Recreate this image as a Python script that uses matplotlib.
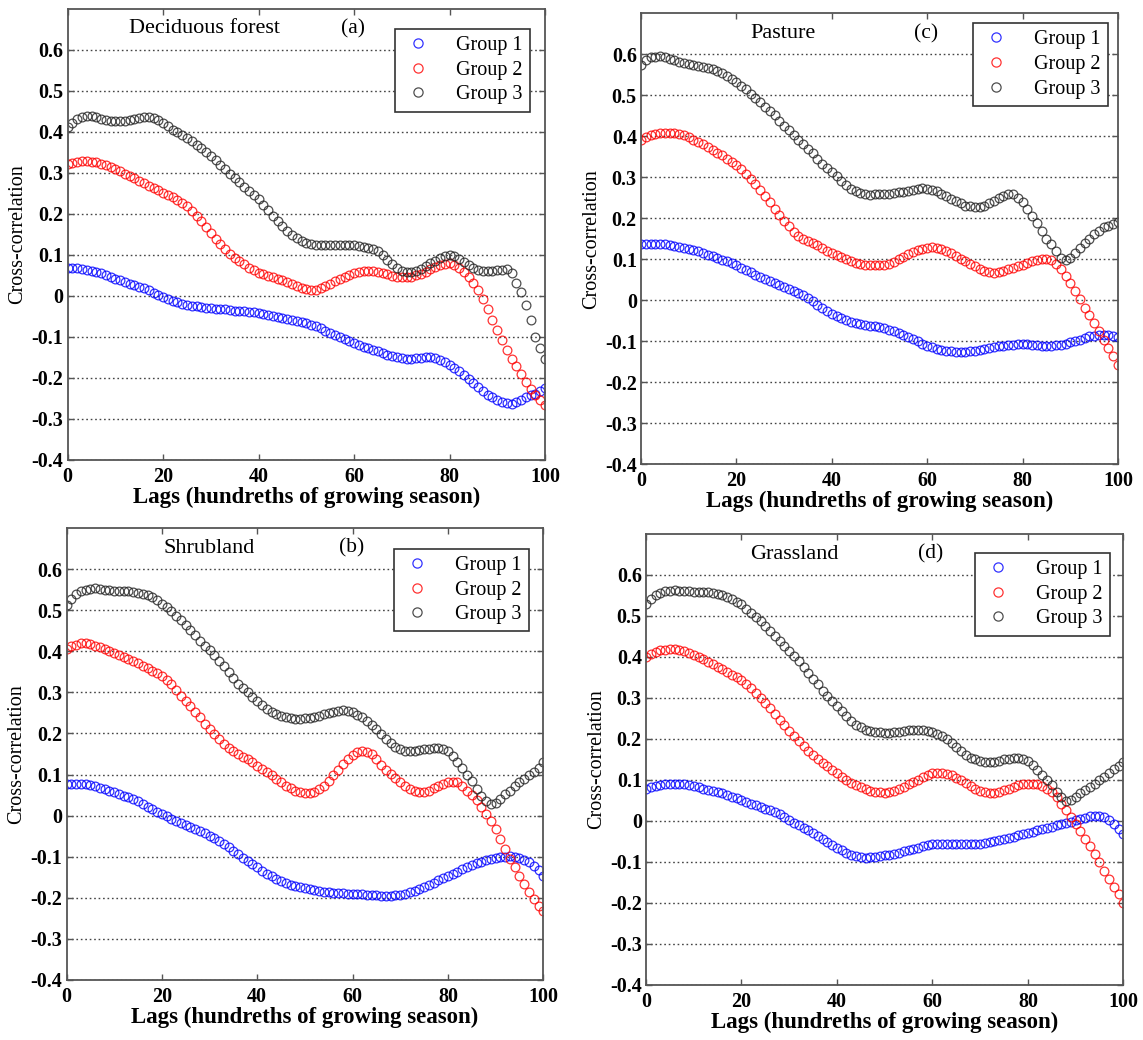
import matplotlib
matplotlib.use("Agg")
import matplotlib.pyplot as plt
import numpy as np

plt.rcParams['font.family'] = ['Liberation Serif', 'DejaVu Serif']

lags = list(range(0, 101))

# (a) Deciduous forest
a_g1 = [0.068,0.068,0.067,0.066,0.064,0.061,0.058,0.055,0.051,0.047,0.042,
        0.038,0.034,0.030,0.026,0.022,0.018,0.013,0.008,0.003,-0.002,
        -0.007,-0.012,-0.016,-0.019,-0.022,-0.024,-0.026,-0.027,-0.029,-0.030,
        -0.031,-0.032,-0.033,-0.034,-0.036,-0.037,-0.038,-0.039,-0.040,-0.042,
        -0.044,-0.046,-0.048,-0.051,-0.054,-0.056,-0.059,-0.061,-0.064,-0.067,
        -0.070,-0.074,-0.079,-0.085,-0.091,-0.096,-0.100,-0.104,-0.109,-0.115,
        -0.119,-0.124,-0.128,-0.132,-0.135,-0.139,-0.143,-0.147,-0.150,-0.152,
        -0.153,-0.153,-0.152,-0.151,-0.150,-0.150,-0.152,-0.156,-0.161,-0.168,
        -0.176,-0.184,-0.194,-0.203,-0.213,-0.223,-0.232,-0.241,-0.247,-0.253,
        -0.258,-0.262,-0.263,-0.259,-0.253,-0.247,-0.242,-0.238,-0.232,-0.225]
a_g2 = [0.320,0.324,0.327,0.328,0.328,0.327,0.325,0.322,0.318,0.313,0.308,
        0.303,0.297,0.292,0.286,0.280,0.274,0.268,0.263,0.257,0.251,
        0.246,0.240,0.234,0.227,0.218,0.207,0.195,0.182,0.168,0.153,
        0.139,0.126,0.114,0.103,0.093,0.085,0.077,0.069,0.062,0.056,
        0.052,0.048,0.045,0.042,0.039,0.034,0.029,0.023,0.019,0.016,
        0.015,0.015,0.018,0.023,0.030,0.036,0.041,0.046,0.051,0.055,
        0.058,0.060,0.060,0.060,0.059,0.056,0.052,0.048,0.046,0.045,
        0.045,0.047,0.050,0.054,0.059,0.065,0.070,0.075,0.078,0.079,
        0.075,0.068,0.059,0.047,0.032,0.015,-0.008,-0.033,-0.058,-0.083,
        -0.108,-0.132,-0.153,-0.172,-0.191,-0.209,-0.226,-0.242,-0.255,-0.266]
a_g3 = [0.412,0.422,0.430,0.435,0.437,0.437,0.435,0.432,0.429,0.427,0.425,
        0.425,0.426,0.428,0.431,0.433,0.435,0.435,0.433,0.428,0.421,
        0.413,0.405,0.399,0.392,0.385,0.377,0.368,0.359,0.350,0.340,
        0.330,0.319,0.309,0.298,0.287,0.277,0.266,0.256,0.245,0.235,
        0.222,0.209,0.195,0.182,0.170,0.159,0.149,0.140,0.133,0.128,
        0.126,0.125,0.125,0.125,0.125,0.125,0.125,0.125,0.125,0.124,
        0.122,0.120,0.117,0.114,0.110,0.100,0.088,0.077,0.067,0.060,
        0.057,0.057,0.061,0.066,0.072,0.079,0.086,0.093,0.098,0.099,
        0.096,0.090,0.082,0.074,0.068,0.064,0.061,0.060,0.060,0.062,
        0.064,0.066,0.056,0.032,0.010,-0.022,-0.058,-0.100,-0.127,-0.155]

# (c) Pasture
c_g1 = [0.136,0.137,0.138,0.138,0.137,0.136,0.134,0.132,0.130,0.128,0.125,
        0.123,0.120,0.116,0.111,0.107,0.103,0.099,0.095,0.090,0.085,
        0.079,0.073,0.068,0.062,0.057,0.052,0.047,0.042,0.037,0.033,
        0.028,0.023,0.018,0.012,0.006,-0.002,-0.011,-0.019,-0.027,-0.033,
        -0.039,-0.044,-0.049,-0.052,-0.055,-0.057,-0.060,-0.062,-0.063,-0.065,
        -0.068,-0.072,-0.076,-0.080,-0.085,-0.090,-0.095,-0.100,-0.106,-0.111,
        -0.115,-0.119,-0.121,-0.123,-0.125,-0.127,-0.127,-0.127,-0.125,-0.123,
        -0.121,-0.119,-0.116,-0.114,-0.112,-0.111,-0.109,-0.108,-0.107,-0.107,
        -0.107,-0.108,-0.110,-0.111,-0.111,-0.111,-0.110,-0.108,-0.106,-0.103,
        -0.100,-0.096,-0.092,-0.088,-0.086,-0.084,-0.084,-0.084,-0.086,-0.090]
c_g2 = [0.390,0.397,0.402,0.406,0.408,0.409,0.409,0.408,0.406,0.402,0.398,
        0.392,0.386,0.380,0.373,0.367,0.360,0.353,0.345,0.337,0.329,
        0.319,0.308,0.296,0.284,0.270,0.255,0.239,0.223,0.208,0.194,
        0.180,0.167,0.157,0.150,0.145,0.140,0.134,0.128,0.121,0.115,
        0.110,0.105,0.100,0.096,0.092,0.089,0.087,0.085,0.085,0.085,
        0.086,0.089,0.094,0.100,0.106,0.112,0.118,0.122,0.126,0.128,
        0.129,0.128,0.125,0.120,0.114,0.107,0.101,0.095,0.089,0.083,
        0.077,0.071,0.068,0.067,0.068,0.071,0.075,0.079,0.083,0.087,
        0.091,0.095,0.098,0.101,0.100,0.097,0.089,0.075,0.059,0.042,
        0.022,0.002,-0.019,-0.035,-0.055,-0.076,-0.096,-0.116,-0.137,-0.157]
c_g3 = [0.573,0.585,0.592,0.594,0.595,0.593,0.589,0.585,0.581,0.578,0.575,
        0.573,0.572,0.570,0.567,0.563,0.559,0.554,0.548,0.540,0.532,
        0.523,0.514,0.504,0.494,0.483,0.472,0.462,0.451,0.438,0.426,
        0.414,0.402,0.391,0.381,0.370,0.358,0.345,0.333,0.322,0.312,
        0.302,0.292,0.282,0.272,0.266,0.261,0.259,0.257,0.258,0.259,
        0.260,0.260,0.261,0.263,0.265,0.267,0.269,0.271,0.273,0.272,
        0.270,0.266,0.260,0.254,0.247,0.241,0.236,0.231,0.229,0.227,
        0.228,0.231,0.236,0.243,0.249,0.255,0.259,0.258,0.250,0.239,
        0.223,0.206,0.188,0.170,0.149,0.136,0.120,0.104,0.098,0.104,
        0.116,0.128,0.140,0.149,0.162,0.170,0.178,0.182,0.186,0.190]

# (b) Shrubland
b_g1 = [0.076,0.077,0.078,0.077,0.076,0.074,0.071,0.068,0.065,0.061,0.057,
        0.053,0.049,0.045,0.040,0.035,0.029,0.022,0.016,0.010,0.004,
        -0.002,-0.008,-0.014,-0.019,-0.024,-0.028,-0.033,-0.038,-0.043,-0.049,
        -0.055,-0.061,-0.069,-0.077,-0.085,-0.093,-0.102,-0.110,-0.118,-0.126,
        -0.134,-0.142,-0.148,-0.154,-0.159,-0.164,-0.168,-0.171,-0.174,-0.176,
        -0.178,-0.180,-0.183,-0.185,-0.187,-0.188,-0.189,-0.189,-0.190,-0.191,
        -0.191,-0.191,-0.192,-0.193,-0.194,-0.195,-0.195,-0.195,-0.194,-0.193,
        -0.190,-0.187,-0.183,-0.179,-0.174,-0.168,-0.163,-0.157,-0.152,-0.146,
        -0.141,-0.136,-0.131,-0.126,-0.121,-0.116,-0.112,-0.108,-0.105,-0.103,
        -0.101,-0.100,-0.099,-0.100,-0.103,-0.108,-0.114,-0.122,-0.133,-0.146]
b_g2 = [0.406,0.412,0.416,0.419,0.420,0.418,0.414,0.410,0.406,0.401,0.395,
        0.391,0.387,0.382,0.377,0.371,0.365,0.359,0.353,0.347,0.341,
        0.331,0.320,0.306,0.292,0.280,0.267,0.253,0.239,0.224,0.210,
        0.198,0.186,0.175,0.165,0.157,0.149,0.143,0.137,0.130,0.122,
        0.114,0.106,0.098,0.089,0.081,0.073,0.067,0.061,0.057,0.054,
        0.054,0.057,0.064,0.073,0.085,0.098,0.112,0.125,0.137,0.148,
        0.155,0.158,0.156,0.149,0.137,0.124,0.112,0.101,0.091,0.081,
        0.072,0.065,0.060,0.057,0.058,0.061,0.067,0.073,0.078,0.081,
        0.082,0.081,0.073,0.061,0.050,0.037,0.020,0.004,-0.012,-0.033,
        -0.057,-0.081,-0.106,-0.126,-0.146,-0.167,-0.187,-0.203,-0.220,-0.233]
b_g3 = [0.512,0.528,0.539,0.546,0.550,0.552,0.553,0.551,0.549,0.548,0.547,
        0.547,0.546,0.546,0.545,0.543,0.540,0.536,0.531,0.524,0.516,
        0.507,0.498,0.487,0.475,0.463,0.451,0.439,0.426,0.414,0.402,
        0.390,0.377,0.363,0.349,0.334,0.320,0.310,0.300,0.289,0.279,
        0.269,0.259,0.252,0.247,0.242,0.239,0.237,0.235,0.236,0.237,
        0.238,0.240,0.243,0.247,0.250,0.253,0.255,0.257,0.255,0.251,
        0.246,0.239,0.231,0.221,0.210,0.198,0.187,0.177,0.168,0.161,
        0.158,0.157,0.158,0.159,0.161,0.163,0.164,0.165,0.162,0.157,
        0.145,0.130,0.115,0.100,0.085,0.065,0.048,0.035,0.028,0.030,
        0.041,0.053,0.061,0.073,0.081,0.089,0.098,0.106,0.116,0.130]

# (d) Grassland
d_g1 = [0.079,0.082,0.085,0.087,0.089,0.090,0.090,0.090,0.090,0.088,0.085,
        0.082,0.079,0.076,0.073,0.070,0.067,0.063,0.059,0.055,0.050,
        0.046,0.042,0.038,0.034,0.030,0.026,0.021,0.016,0.010,0.003,
        -0.004,-0.011,-0.017,-0.023,-0.030,-0.037,-0.044,-0.051,-0.058,-0.065,
        -0.072,-0.078,-0.082,-0.086,-0.088,-0.090,-0.089,-0.088,-0.086,-0.084,
        -0.082,-0.080,-0.077,-0.073,-0.070,-0.068,-0.065,-0.062,-0.059,-0.057,
        -0.056,-0.055,-0.055,-0.055,-0.056,-0.057,-0.057,-0.057,-0.056,-0.055,
        -0.054,-0.052,-0.050,-0.047,-0.045,-0.042,-0.038,-0.035,-0.032,-0.029,
        -0.026,-0.023,-0.020,-0.017,-0.014,-0.011,-0.008,-0.005,-0.002,0.002,
        0.005,0.008,0.011,0.013,0.013,0.010,0.003,-0.007,-0.019,-0.033]
d_g2 = [0.400,0.408,0.413,0.416,0.418,0.419,0.419,0.417,0.414,0.410,0.405,
        0.400,0.394,0.388,0.382,0.376,0.370,0.364,0.357,0.350,0.343,
        0.334,0.325,0.313,0.300,0.288,0.276,0.262,0.247,0.233,0.219,
        0.206,0.194,0.182,0.170,0.160,0.150,0.141,0.133,0.125,0.117,
        0.108,0.099,0.093,0.087,0.082,0.077,0.074,0.071,0.070,0.069,
        0.070,0.073,0.078,0.083,0.089,0.095,0.101,0.107,0.112,0.117,
        0.118,0.117,0.115,0.112,0.106,0.099,0.092,0.085,0.079,0.073,
        0.070,0.069,0.069,0.071,0.075,0.079,0.083,0.087,0.089,0.091,
        0.091,0.089,0.085,0.079,0.071,0.059,0.042,0.026,0.010,-0.007,
        -0.024,-0.043,-0.062,-0.081,-0.100,-0.121,-0.141,-0.160,-0.178,-0.200]
d_g3 = [0.528,0.541,0.551,0.557,0.561,0.562,0.563,0.562,0.561,0.560,0.559,
        0.559,0.558,0.558,0.557,0.554,0.551,0.547,0.541,0.535,0.528,
        0.518,0.508,0.498,0.488,0.476,0.463,0.451,0.439,0.426,0.414,
        0.402,0.390,0.375,0.361,0.347,0.333,0.318,0.304,0.292,0.280,
        0.268,0.256,0.245,0.235,0.228,0.223,0.220,0.217,0.216,0.215,
        0.215,0.216,0.217,0.219,0.221,0.223,0.223,0.223,0.220,0.217,
        0.212,0.207,0.199,0.190,0.180,0.170,0.162,0.154,0.150,0.146,
        0.145,0.144,0.145,0.147,0.150,0.152,0.153,0.154,0.151,0.146,
        0.136,0.125,0.112,0.100,0.087,0.071,0.059,0.049,0.050,0.059,
        0.067,0.075,0.083,0.091,0.099,0.108,0.117,0.126,0.135,0.145]

group_labels = ["Group 1", "Group 2", "Group 3"]
group_colors = ["#0000ff", "#ff0000", "#222222"]
yticks = [-0.4, -0.3, -0.2, -0.1, 0, 0.1, 0.2, 0.3, 0.4, 0.5, 0.6]
ytick_labels = ["-0.4", "-0.3", "-0.2", "-0.1", "0", "0.1", "0.2", "0.3", "0.4", "0.5", "0.6"]
xticks = [0, 20, 40, 60, 80, 100]
xtick_labels = ["0", "20", "40", "60", "80", "100"]

panels = [
    dict(name="Deciduous forest", tag="(a)", series=[a_g1, a_g2, a_g3],
         rect=[0.0592, 0.5577, 0.4176, 0.4341], name_x=0.287, leg=(0.968, 0.955)),
    dict(name="Pasture", tag="(c)", series=[c_g1, c_g2, c_g3],
         rect=[0.5608, 0.5536, 0.4173, 0.4337], name_x=0.297, leg=(0.979, 0.978)),
    dict(name="Shrubland", tag="(b)", series=[b_g1, b_g2, b_g3],
         rect=[0.0582, 0.0577, 0.4171, 0.4346], name_x=0.300, leg=(0.970, 0.954)),
    dict(name="Grassland", tag="(d)", series=[d_g1, d_g2, d_g3],
         rect=[0.5652, 0.0529, 0.4176, 0.4337], name_x=0.310, leg=(0.972, 0.958)),
]

fig = plt.figure(figsize=(11.43, 10.40), dpi=100)
for p in panels:
    ax = fig.add_axes(p["rect"])
    for vals, lab, col in zip(p["series"], group_labels, group_colors):
        n = min(len(lags), len(vals))
        ax.plot(lags[:n], vals[:n], linestyle="none", marker="o", markersize=6.3,
                markerfacecolor="none", markeredgecolor=col, markeredgewidth=0.9,
                label=lab, alpha=0.8)
    ax.set_xlim(0, 100)
    ax.set_ylim(-0.4, 0.7)
    ax.set_xticks(xticks)
    ax.set_xticklabels(xtick_labels)
    ax.set_yticks(yticks)
    ax.set_yticklabels(ytick_labels)
    ax.yaxis.grid(True, linestyle=(0, (1.2, 2.0)), color="#444444", linewidth=1.0)
    ax.set_axisbelow(True)
    ax.tick_params(direction="in", top=True, right=True, length=4, width=1,
                   color="#555555", labelsize=14.5)
    ax.tick_params(axis="x", pad=5)
    ax.tick_params(axis="y", pad=3)
    for lbl in ax.get_xticklabels() + ax.get_yticklabels():
        lbl.set_fontweight("semibold")
    for s in ax.spines.values():
        s.set_color("#555555")
        s.set_linewidth(1.3)
    ax.set_xlabel("Lags (hundreths of growing season)", fontsize=16.5,
                  fontweight="bold", labelpad=0)
    ax.set_ylabel("Cross-correlation", fontsize=14.5, labelpad=3)
    ax.text(p["name_x"], 0.955, p["name"], transform=ax.transAxes,
            ha="center", va="center", fontsize=16)
    ax.text(0.597, 0.955, p["tag"], transform=ax.transAxes,
            ha="center", va="center", fontsize=15.5)
    leg = ax.legend(loc="upper right", bbox_to_anchor=p["leg"], borderaxespad=0,
                    fontsize=14.5, frameon=True, fancybox=False, framealpha=1,
                    edgecolor="#333333", handlelength=1.6, handletextpad=1.1,
                    borderpad=0.35, labelspacing=0.28, markerscale=1.05)
    leg.get_frame().set_linewidth(1.2)

fig.savefig("out.png", dpi=100, facecolor="white")
